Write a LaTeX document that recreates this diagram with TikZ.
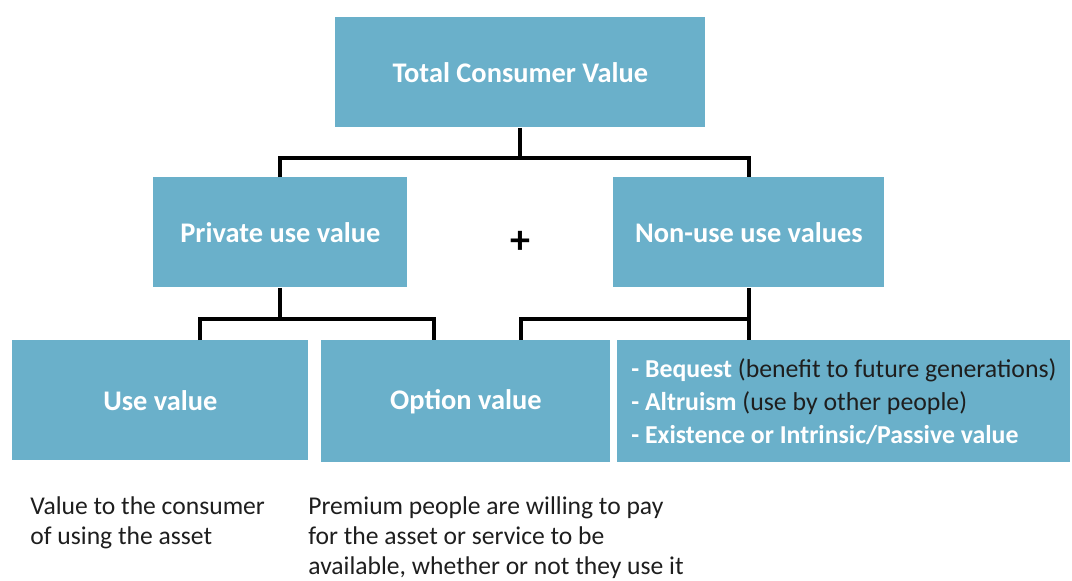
\documentclass[tikz,border=0pt]{standalone}
\usepackage{fontspec}
\setmainfont{Carlito}
\usepackage{xcolor}
\usetikzlibrary{calc}
\definecolor{boxblue}{RGB}{106,176,202}
\definecolor{notegray}{RGB}{30,30,30}

\begin{document}
\begin{tikzpicture}[x=0.5pt,y=-0.5pt]
\tikzstyle{every node}+=[inner sep=0pt]
\tikzstyle{valbox}=[fill=boxblue,text=white,font=\fontsize{14.2}{17}\selectfont\bfseries,anchor=north west]
\tikzstyle{link}=[draw=black,line width=2pt]
\tikzstyle{note}=[text=notegray,font=\fontsize{12.8}{15}\selectfont,align=left,anchor=north west]
\useasboundingbox (0,0) rectangle (1072,580);
% value boxes
\node [valbox,minimum width=185pt,minimum height=55pt] (total) at (335,17) {Total Consumer Value};
\node [valbox,minimum width=127pt,minimum height=55pt] (priv) at (153,177) {Private use value};
\node [valbox,minimum width=135.5pt,minimum height=55pt] (nonuse) at (613,177) {Non-use use values};
\node [font=\fontsize{20}{20}\selectfont\bfseries] (plus) at (520,242) {+};
\node [valbox,minimum width=148pt,minimum height=60pt] (use) at (12,340) {Use value};
\node [valbox,minimum width=226.5pt,minimum height=61pt,align=left,
  font=\fontsize{12.9}{16.5}\selectfont] (ext) at (617,340)
  {\textbf{- Bequest} {\color{notegray}(benefit to future generations)}\\
   \textbf{- Altruism} {\color{notegray}(use by other people)}\\
   \textbf{- Existence or Intrinsic/Passive value}};
\node [valbox,minimum width=144.5pt,minimum height=61pt] (opt) at (321,340) {Option value};
% notes
\node [note] (usenote) at (30,496) {Value to the consumer\\of using the asset};
\node [note] (optnote) at (308,496) {Premium people are willing to pay\\for the asset or service to be\\available, whether or not they use it};
% connectors
\draw [link] (total.south) -- ++(0,30) coordinate (tj);
\draw [link] (priv.north) |- (tj) -| (nonuse.north);
\draw [link] (priv.south) -- ++(0,31) coordinate (pj);
\draw [link] ($(use.north)+(40,0)$) |- (pj) -| ($(opt.north)+(-32,0)$);
\draw [link] (nonuse.south) -- ++(0,31) coordinate (nj);
\draw [link] (nj) -- (nonuse.south |- ext.north);
\draw [link] (nj) -| ($(opt.north)+(55,0)$);
\end{tikzpicture}
\end{document}
